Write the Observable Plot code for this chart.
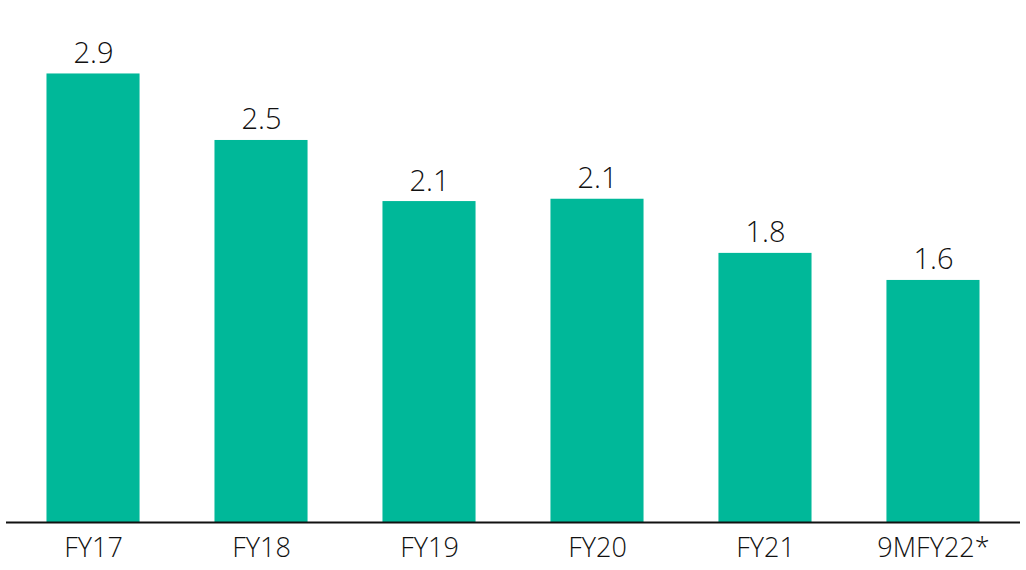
<!DOCTYPE html>
<html>
<head>
<meta charset="utf-8">
<script src="https://cdn.jsdelivr.net/npm/d3@7"></script>
<script src="https://cdn.jsdelivr.net/npm/@observablehq/plot@0.6"></script>
<style>
  html, body { margin: 0; padding: 0; background: #fff; }
  #chart svg { display: block; }
</style>
</head>
<body>
<div id="chart"></div>
<script>
const categories = ["FY17", "FY18", "FY19", "FY20", "FY21", "9MFY22*"];
const values = [2.9, 2.47, 2.075, 2.09, 1.74, 1.565];
const valueLabels = ["2.9", "2.5", "2.1", "2.1", "1.8", "1.6"];

const data = categories.map((c, i) => ({cat: c, value: values[i], label: valueLabels[i]}));

const font = "'Open Sans', 'DejaVu Sans', sans-serif";

const chart = Plot.plot({
  width: 1026,
  height: 570,
  marginTop: 58,
  marginBottom: 48,
  marginLeft: 6,
  marginRight: 6,
  style: {fontFamily: font, color: "#1a1a1a", background: "#fff"},
  x: {domain: categories, paddingInner: 0.446, paddingOuter: 0.241, round: false, label: null},
  y: {domain: [0, 3], axis: null},
  marks: [
    Plot.barY(data, {x: "cat", y: "value", fill: "#00B899"}),
    Plot.ruleY([0], {stroke: "#111", strokeWidth: 2}),
    Plot.text(data, {x: "cat", y: "value", text: "label", dy: -11, lineAnchor: "bottom",
      fontSize: 29, fontWeight: 300, fill: "#111", fontFamily: font}),
    Plot.axisX({tickSize: 0, tickPadding: 15, fontSize: 27, fontWeight: 300, fill: "#111", label: null, fontFamily: font})
  ]
});
document.getElementById("chart").appendChild(chart);
</script>
</body>
</html>
